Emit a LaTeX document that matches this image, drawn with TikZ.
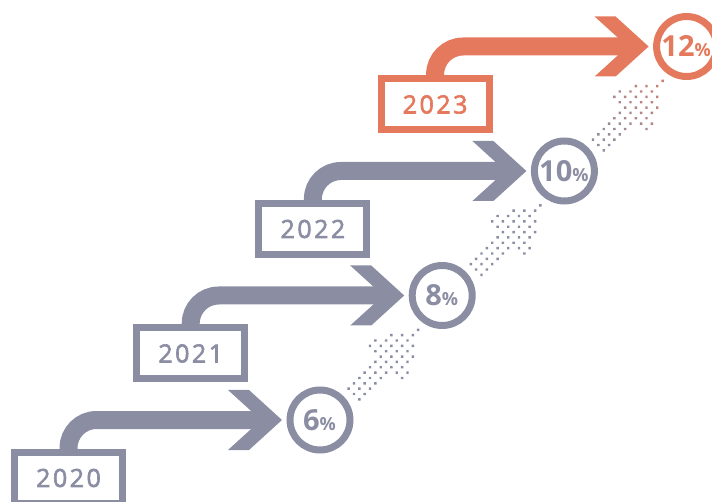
\documentclass[tikz,border=0pt]{standalone}
\usepackage{fontspec}
\setmainfont{Open Sans}
\newfontfamily\yearfont[LetterSpace=10,FakeBold=2.5]{Open Sans}
\newfontfamily\pctfont{Open Sans}
\definecolor{gry}{HTML}{8B8DA3}
\definecolor{org}{HTML}{E5795D}
\tikzset{
  ybox/.style={draw=#1, text=#1, line width=7pt, minimum width=108pt, minimum height=51pt, inner sep=0pt, outer sep=0pt},
  pcirc/.style={draw=#1, text=#1, line width=7pt, circle, minimum size=60pt, inner sep=0pt, outer sep=0pt},
  bar/.style={draw=#1, line width=18pt, rounded corners=28pt},
  chev/.style={fill=#1}
}
\begin{document}
\begin{tikzpicture}[x=1pt,y=-1pt]
\useasboundingbox (0,0) rectangle (712,502);
\clip (0,0) rectangle (712,502);
\foreach \k/\yr/\pc/\col in {0/2020/6/gry,1/2021/8/gry,2/2022/10/gry,3/2023/12/org} {
  \begin{scope}[shift={(122.2*\k,-124.5*\k)}]
    \node[ybox=\col] (b\k) at (68.5,478) {\yearfont\fontsize{25}{25}\selectfont\yr};
    \node[pcirc=\col] (c\k) at (320,420) {\pctfont\bfseries\kern-1pt{\fontsize{29}{29}\selectfont\pc}{\fontsize{18}{18}\selectfont\%}};
    \draw[bar=\col] (b\k.north) |- ([xshift=-55pt]c\k.center);
    \fill[chev=\col, shift={(c\k.center)}] (-92,-30) -- (-71,-30) -- (-38,0) -- (-71,30) -- (-92,30) -- (-59,0) -- cycle;
  \end{scope}
}
\foreach \k in {0,1,2} {
  \begin{scope}[shift={(c\k.center)}, shift={(33,-25)}, rotate=45]
    \foreach \i in {0,...,12} {
      \foreach \j in {-4,...,4} {
        \pgfmathsetmacro\s{92.2-7.57*\i}
        \pgfmathsetmacro\t{7.57*\j}
        \pgfmathtruncatemacro\ins{((\s<=45)&&(abs(\t)<=11.5))||((\s>45)&&(abs(\t)<=30*(95-\s)/50+0.5))}
        \pgfmathtruncatemacro\p{\k==2 ? 75*\s/95 : 0}
        \ifnum\ins=1 \fill[org!\p!gry] (\s,\t) circle[radius=1.7]; \fi
      }
    }
  \end{scope}
}
\end{tikzpicture}
\end{document}
